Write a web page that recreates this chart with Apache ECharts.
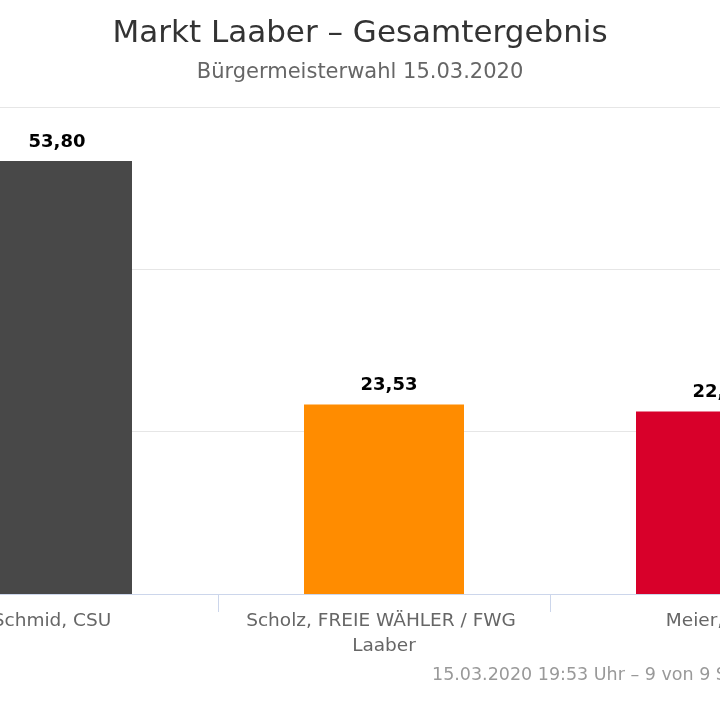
<!DOCTYPE html>
<html>
<head>
<meta charset="utf-8">
<script src="https://cdn.jsdelivr.net/npm/echarts@6/dist/echarts.min.js"></script>
<style>
  html, body { margin: 0; padding: 0; background: #fff; overflow: hidden; }
  #wrap { position: relative; width: 720px; height: 720px; overflow: hidden; }
  /* the original chart was wider than the visible crop */
  #chart { position: absolute; left: -190px; top: 0; width: 1100px; height: 720px; }
</style>
</head>
<body>
<div id="wrap"><div id="chart"></div></div>
<script>
var candidates = ['Schmid, CSU', 'Scholz, FREIE WÄHLER / FWG Laaber', 'Meier, SPD'];
var shares = [53.80, 23.53, 22.67];
var barColors = ['#484848', '#ff8c00', '#d8002a'];

var chart = echarts.init(document.getElementById('chart'));

var option = {
    animation: false,
    title: {
        text: 'Markt Laaber – Gesamtergebnis',
        subtext: 'Bürgermeisterwahl 15.03.2020',
        left: 'center',
        top: 13,
        itemGap: 13,
        textStyle: {
            fontFamily: 'DejaVu Sans',
            fontSize: 31,
            fontWeight: 'normal',
            color: '#333333'
        },
        subtextStyle: {
            fontFamily: 'DejaVu Sans',
            fontSize: 21,
            color: '#666666'
        }
    },
    grid: {
        left: 76,
        right: 28,
        top: 107,
        bottom: 126
    },
    xAxis: {
        type: 'category',
        data: candidates,
        axisLine: { lineStyle: { color: '#ccd6eb', width: 1 } },
        axisTick: { show: true, length: 18, lineStyle: { color: '#ccd6eb' } },
        axisLabel: {
            margin: 15,
            fontFamily: 'DejaVu Sans',
            fontSize: 18.5,
            lineHeight: 25,
            color: '#666666',
            width: 300,
            overflow: 'break',
            interval: 0
        }
    },
    yAxis: [{
        // gridlines
        type: 'value',
        min: 0,
        max: 60,
        interval: 20,
        axisLabel: { show: false },
        axisLine: { show: false },
        axisTick: { show: false },
        splitLine: { lineStyle: { color: '#e6e6e6', width: 1 } }
    }, {
        // bar scale (slightly more headroom than the grid)
        type: 'value',
        min: 0,
        max: 60.5,
        show: false,
        splitLine: { show: false }
    }],
    series: [{
        type: 'bar',
        yAxisIndex: 1,
        barWidth: 160,
        data: shares.map(function (v, i) {
            return { value: v, itemStyle: { color: barColors[i] } };
        }),
        label: {
            show: true,
            position: 'top',
            distance: 10,
            offset: [5, 0],
            fontFamily: 'DejaVu Sans',
            fontSize: 18,
            fontWeight: 'bold',
            color: '#000000',
            formatter: function (p) {
                return p.value.toFixed(2).replace('.', ',');
            }
        }
    }],
    graphic: [{
        type: 'text',
        left: 622,
        top: 666,
        style: {
            text: '15.03.2020 19:53 Uhr – 9 von 9 Stimmbezirken',
            fontFamily: 'DejaVu Sans',
            fontSize: 17.5,
            fill: '#999999'
        }
    }]
};

chart.setOption(option);
window.addEventListener('resize', function () {
    chart.resize();
});
</script>
</body>
</html>
